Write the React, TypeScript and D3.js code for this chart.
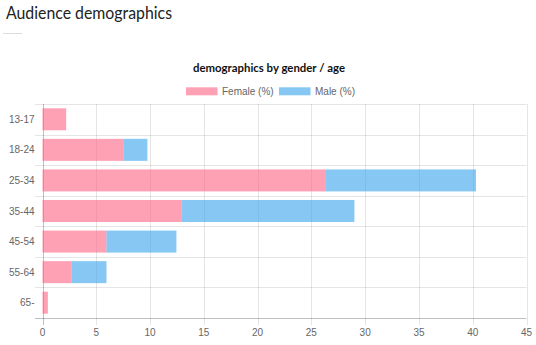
import React from "react";
import * as d3 from "d3";

const categories = ["13-17", "18-24", "25-34", "35-44", "45-54", "55-64", "65-"];
const femaleValues = [2.2, 7.55, 26.35, 12.95, 5.95, 2.7, 0.5];
const maleValues = [0, 2.2, 13.95, 16.05, 6.5, 3.25, 0];
const xTicks = [0, 5, 10, 15, 20, 25, 30, 35, 40, 45];
const seriesNames = ["Female (%)", "Male (%)"];
const seriesColors = ["rgba(255,99,132,0.6)", "rgba(54,162,235,0.6)"];

export default function App() {
  const W = 536, H = 345;
  const left = 42.5, right = 526.5, top = 104, bottom = 318;
  const x = d3.scaleLinear().domain([0, 45]).range([left, right]);
  const y = d3.scaleBand().domain(categories).range([top, bottom]).paddingInner(0).paddingOuter(0);
  const bw = y.bandwidth() * 0.72;
  const series = [femaleValues, maleValues];
  const stack = categories.map((c, i) => {
    let acc = 0;
    return series.map((s) => {
      const x0 = acc;
      acc += s[i];
      return [x0, acc];
    });
  });
  const grid = "rgba(0,0,0,0.1)";
  const font = "Helvetica, Arial, 'Liberation Sans', sans-serif";
  const titleFont = "Lato, 'Open Sans', sans-serif";
  return (
    <svg width={W} height={H} style={{ position: "absolute", left: 0, top: 0, background: "#fff" }}>
      <text x={6} y={18.5} fontFamily={titleFont} fontWeight={400} fontSize={17} fill="#222" textLength={166} lengthAdjust="spacingAndGlyphs">Audience demographics</text>
      <line x1={3} x2={22} y1={33.5} y2={33.5} stroke="#ddd" strokeWidth={1} />
      <text x={269} y={71.5} textAnchor="middle" fontFamily={titleFont} fontWeight={700} fontSize={12} fill="#111" textLength={152} lengthAdjust="spacingAndGlyphs">demographics by gender / age</text>
      {seriesNames.map((n, i) => {
        const bx = [186, 279][i];
        return (
          <g key={n}>
            <rect x={bx} y={87.3} width={31.5} height={8} fill={seriesColors[i]} />
            <text x={bx + 36} y={95} fontFamily={font} fontSize={10} fill="#666">{n}</text>
          </g>
        );
      })}
      {d3.range(categories.length + 1).map((i) => {
        const yy = Math.round(top + i * y.step()) + 0.5;
        return <line key={"h" + i} x1={35} x2={right} y1={yy} y2={yy} stroke={i === categories.length ? "rgba(0,0,0,0.25)" : grid} />;
      })}
      {xTicks.map((t, i) => {
        const xx = Math.round(x(t)) + 0.5;
        return <line key={"v" + t} x1={xx} x2={xx} y1={top} y2={bottom + 7} stroke={i === 0 ? "rgba(0,0,0,0.25)" : grid} />;
      })}
      {categories.map((c, i) =>
        stack[i].map(([a, b], j) =>
          b - a > 0 ? (
            <rect key={c + j} x={x(a)} y={y(c)! + (y.bandwidth() - bw) / 2} width={x(b) - x(a)} height={bw} fill={seriesColors[j]} />
          ) : null
        )
      )}
      {categories.map((c) => (
        <text key={"l" + c} x={34.5} y={y(c)! + y.bandwidth() / 2 + 3.5} textAnchor="end" fontFamily={font} fontSize={10} fill="#666">{c}</text>
      ))}
      {xTicks.map((t) => (
        <text key={"t" + t} x={x(t)} y={336} textAnchor="middle" fontFamily={font} fontSize={10} fill="#666">{t}</text>
      ))}
    </svg>
  );
}
